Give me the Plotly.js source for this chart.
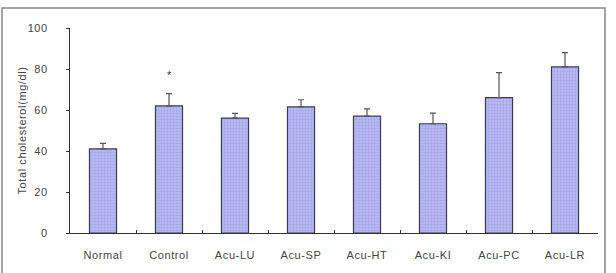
<!DOCTYPE html>
<html>
<head>
<meta charset="utf-8">
<script src="https://cdn.plot.ly/plotly-3.0.1.min.js"></script>
<style>
html,body{margin:0;padding:0;background:#fff;}
#chart{width:616px;height:273px;}
#chart .xtick text, #chart .ytick text, #chart .ytitle { letter-spacing: 0.6px; }
</style>
</head>
<body>
<div id="chart"></div>
<script>
const categories = ["Normal","Control","Acu-LU","Acu-SP","Acu-HT","Acu-KI","Acu-PC","Acu-LR"];
const means = [41, 62, 56, 61.5, 57, 53.3, 66, 81];
const errors = [2.7, 6, 2.4, 3.5, 3.5, 5.2, 12.2, 7];
const markLabel = "*";
const markCategory = "Control";
const markValue = 77;

const trace = {
  type: "bar",
  x: categories,
  y: means,
  width: 0.41,
  marker: {
    color: "#b6b6f2",
    line: {color: "#3a3a55", width: 1.2},
    pattern: {shape: ".", fgcolor: "#a2a2e2", bgcolor: "#b8b8f4", size: 3, solidity: 0.3}
  },
  error_y: {
    type: "data", array: errors, arrayminus: errors.map(() => 0), symmetric: false,
    color: "#555555", thickness: 1.2, width: 3
  },
  hoverinfo: "skip"
};

const layout = {
  width: 616, height: 273,
  margin: {l: 70, r: 18, t: 28, b: 40},
  paper_bgcolor: "#ffffff",
  plot_bgcolor: "#ffffff",
  showlegend: false,
  font: {family: "Liberation Sans, Arial, sans-serif", size: 11, color: "#444"},
  xaxis: {
    type: "category",
    showline: true, linecolor: "#333", linewidth: 1,
    ticks: "inside", tickson: "boundaries", ticklen: 3, tickcolor: "#333",
    showgrid: false, zeroline: false,
    tickfont: {size: 11, color: "#444"},
    ticklabelstandoff: 12,
    automargin: false
  },
  yaxis: {
    range: [0, 100], dtick: 20,
    showline: true, linecolor: "#333", linewidth: 1,
    ticks: "outside", ticklen: 3, tickcolor: "#333",
    showgrid: false, zeroline: false,
    tickfont: {size: 11, color: "#444"},
    ticklabelstandoff: 16,
    title: {text: "Total cholesterol(mg/dl)", font: {size: 11, color: "#444"}, standoff: 0},
    automargin: false
  },
  annotations: [{
    x: markCategory, y: markValue, xref: "x", yref: "y",
    text: markLabel, showarrow: false, font: {size: 11, color: "#333"}
  }],
  shapes: [{
    type: "rect", xref: "paper", yref: "paper",
    x0: -68/528, x1: 535/528, y0: -50/205, y1: 225/205,
    line: {color: "#888", width: 1.5}, fillcolor: "rgba(0,0,0,0)", layer: "below"
  }]
};

Plotly.newPlot("chart", [trace], layout, {staticPlot: true, displayModeBar: false});
</script>
</body>
</html>
